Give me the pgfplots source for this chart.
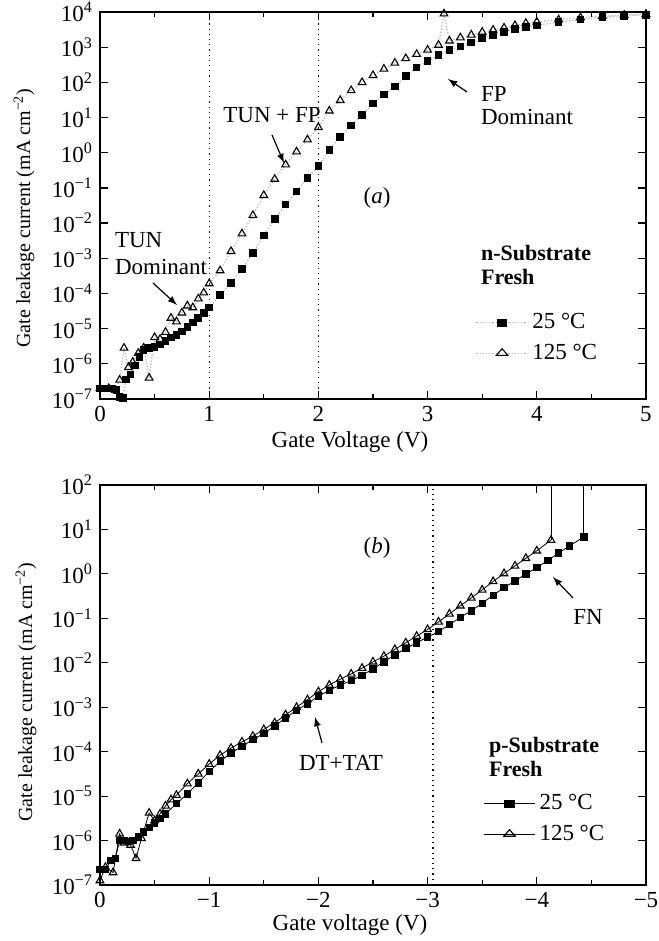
\documentclass[border=0pt]{standalone}
\usepackage{fontspec}
\setmainfont{Liberation Serif}
\usepackage{pgfplots}
\pgfplotsset{compat=1.18}
\pgfplotsset{
 myax/.style={
  scale only axis,
  axis line style={line width=0.8pt},
  major tick length=4pt, minor tick length=2.5pt,
  every tick/.style={black, line width=0.6pt},
  tick label style={font=\fontsize{11.5}{12}\selectfont},
  yminorticks=false,
  enlargelimits=false,
  legend cell align=left,
  legend image post style={xscale=1.5},
 },
 sqA/.style={gray!60, densely dotted, line width=0.6pt, mark=square*, mark size=1.6pt, mark options={solid, black, fill=black}},
 trA/.style={gray!60, densely dotted, line width=0.6pt, mark=triangle, mark size=2.2pt, mark options={solid, black, line width=0.55pt}},
 sqB/.style={black, line width=0.4pt, mark=square*, mark size=1.6pt, mark options={solid, fill=black}},
 trB/.style={black, line width=0.4pt, mark=triangle, mark size=2.2pt, mark options={solid, line width=0.55pt}},
}
\begin{document}
\begin{tikzpicture}
% ---------------- panel (a) ----------------
\begin{axis}[ymode=log, myax,
  at={(50pt,271pt)}, anchor=south west,
  width=273pt, height=193.5pt,
  xmin=0, xmax=5, ymin=1e-7, ymax=1e4,
  xtick={0,1,2,3,4,5}, xticklabels={0,1,2,3,4,5},
  minor x tick num=1,
  ytick={1e-7,1e-6,1e-5,1e-4,1e-3,1e-2,1e-1,1,1e1,1e2,1e3,1e4},
  yticklabels={10\textsuperscript{−7},10\textsuperscript{−6},10\textsuperscript{−5},10\textsuperscript{−4},10\textsuperscript{−3},10\textsuperscript{−2},10\textsuperscript{−1},10\textsuperscript{0},10\textsuperscript{1},10\textsuperscript{2},10\textsuperscript{3},10\textsuperscript{4}},
  legend style={draw=none, fill=none, at={(0.684,0.237)}, anchor=north west,
    font=\fontsize{11.5}{12}\selectfont, row sep=2pt, inner sep=1pt},
]
\addplot[black, dotted, line width=0.6pt, forget plot] coordinates {(1,1e-7) (1,1e4)};
\addplot[black, dotted, line width=0.6pt, forget plot] coordinates {(2,1e-7) (2,1e4)};
\addplot[sqA] coordinates {
(0.00,2.0e-7) (0.05,2.0e-7) (0.10,2.0e-7) (0.15,1.78e-7) (0.18,1.12e-7) (0.21,1.05e-7)
(0.24,3.55e-7) (0.28,5.01e-7) (0.32,8.91e-7) (0.36,1.58e-6) (0.40,2.51e-6) (0.45,2.82e-6)
(0.50,3.02e-6) (0.55,3.55e-6) (0.60,4.47e-6) (0.65,5.62e-6) (0.70,6.61e-6) (0.75,8.32e-6)
(0.80,1.12e-5) (0.85,1.51e-5) (0.90,2.00e-5) (0.95,2.82e-5) (1.00,3.98e-5) (1.10,8.91e-5)
(1.20,2.00e-4) (1.30,5.01e-4) (1.40,1.41e-3) (1.50,4.47e-3) (1.60,1.32e-2) (1.70,3.39e-2)
(1.80,7.94e-2) (1.90,0.191) (2.00,0.417) (2.10,1.20) (2.20,2.82) (2.30,5.89) (2.40,11.7)
(2.50,25.1) (2.60,44.7) (2.70,75.9) (2.80,151) (2.90,263) (3.00,398) (3.10,589) (3.20,832)
(3.30,1047) (3.40,1349) (3.50,1778) (3.60,2239) (3.70,2692) (3.80,3236) (3.90,3715)
(4.00,4169) (4.20,5129) (4.40,6166) (4.60,7079) (4.80,7762) (5.00,8318)
};
\addlegendentry{25 °C}
\addplot[trA] coordinates {
(0.00,2.0e-7) (0.08,2.0e-7) (0.14,1.78e-7) (0.18,3.47e-7) (0.22,2.82e-6) (0.26,7.94e-7)
(0.30,1.12e-6) (0.35,2.00e-6) (0.40,2.82e-6) (0.45,3.98e-7) (0.50,5.62e-6) (0.55,5.01e-6)
(0.60,7.94e-6) (0.65,2.00e-5) (0.70,1.58e-5) (0.75,2.82e-5) (0.80,4.47e-5) (0.85,3.98e-5)
(0.90,7.08e-5) (0.95,1.05e-4) (1.00,1.91e-4) (1.10,4.47e-4) (1.20,1.58e-3) (1.30,5.01e-3)
(1.40,1.66e-2) (1.50,6.17e-2) (1.60,0.178) (1.70,0.457) (1.80,1.07) (1.90,2.34) (2.00,5.25)
(2.10,15.5) (2.20,30.9) (2.30,58.9) (2.40,100) (2.50,158) (2.60,240) (2.70,355) (2.80,479)
(2.90,631) (3.00,832) (3.10,1148) (3.15,8913) (3.20,1514) (3.30,1862) (3.40,2239) (3.50,2692)
(3.60,3090) (3.70,3548) (3.80,4169) (3.90,4786) (4.00,5248) (4.20,6026) (4.40,6918)
(4.60,7586) (4.80,8128) (5.00,8710)
};
\addlegendentry{125 °C}
\end{axis}
% annotations (a)
\node[font=\fontsize{11.5}{12}\selectfont] at (136pt,413pt) {TUN + FP};
\draw[-latex, line width=0.6pt] (136pt,403pt) -- (142pt,389pt);
\node[font=\fontsize{11.5}{12}\selectfont] at (188.5pt,371.5pt) {(\textit{a})};
\node[anchor=west, align=left, font=\fontsize{11.5}{11.5}\selectfont] at (237pt,417.5pt) {FP\\Dominant};
\draw[-latex, line width=0.6pt] (233.5pt,424.5pt) -- (224pt,431pt);
\node[anchor=west, align=left, font=\fontsize{11.5}{13.5}\selectfont] at (54pt,343.5pt) {TUN\\Dominant};
\draw[-latex, line width=0.6pt] (76.5pt,329pt) -- (88.5pt,318pt);
\node[anchor=west, align=left, font=\bfseries\fontsize{11}{12}\selectfont] at (237pt,338pt) {n-Substrate\\Fresh};
\node[font=\fontsize{11.5}{12}\selectfont] at (175pt,249.5pt) {Gate Voltage (V)};
\node[rotate=90, font=\fontsize{10}{12}\selectfont] at (12pt,361.5pt) {Gate leakage current (mA cm\textsuperscript{−2})};
% ---------------- panel (b) ----------------
\begin{axis}[ymode=log, myax,
  at={(50pt,28pt)}, anchor=south west,
  width=273pt, height=200pt,
  xmin=-5, xmax=0, x dir=reverse, ymin=1e-7, ymax=1e2,
  xtick={0,-1,-2,-3,-4,-5}, xticklabels={0,−1,−2,−3,−4,−5},
  minor x tick num=1,
  ytick={1e-7,1e-6,1e-5,1e-4,1e-3,1e-2,1e-1,1,1e1,1e2},
  yticklabels={10\textsuperscript{−7},10\textsuperscript{−6},10\textsuperscript{−5},10\textsuperscript{−4},10\textsuperscript{−3},10\textsuperscript{−2},10\textsuperscript{−1},10\textsuperscript{0},10\textsuperscript{1},10\textsuperscript{2}},
  legend style={draw=none, fill=none, at={(0.698,0.242)}, anchor=north west,
    font=\fontsize{11.5}{12}\selectfont, row sep=2pt, inner sep=1pt},
]
\addplot[black, dotted, line width=0.6pt, forget plot] coordinates {(-3.05,1e-7) (-3.05,1e2)};
\addplot[sqB] coordinates {
(0.00,2.24e-7) (-0.05,2.24e-7) (-0.10,3.55e-7) (-0.14,3.98e-7) (-0.18,1.0e-6) (-0.22,1.0e-6)
(-0.26,9.55e-7) (-0.30,1.0e-6) (-0.35,1.20e-6) (-0.40,1.58e-6) (-0.45,2.00e-6) (-0.50,2.51e-6)
(-0.55,3.16e-6) (-0.60,3.98e-6) (-0.70,6.76e-6) (-0.80,1.12e-5) (-0.90,2.00e-5) (-1.00,3.55e-5)
(-1.10,6.03e-5) (-1.20,9.33e-5) (-1.30,1.32e-4) (-1.40,1.86e-4) (-1.50,2.57e-4) (-1.60,3.80e-4)
(-1.70,5.75e-4) (-1.80,8.51e-4) (-1.90,1.20e-3) (-2.00,1.78e-3) (-2.10,2.40e-3) (-2.20,3.16e-3)
(-2.30,3.98e-3) (-2.40,5.25e-3) (-2.50,7.24e-3) (-2.60,1.05e-2) (-2.70,1.51e-2) (-2.80,2.09e-2)
(-2.90,2.82e-2) (-3.00,3.80e-2) (-3.10,5.01e-2) (-3.20,7.24e-2) (-3.30,0.105) (-3.40,0.148)
(-3.50,0.219) (-3.60,0.331) (-3.70,0.490) (-3.80,0.692) (-3.90,1.00) (-4.00,1.38) (-4.10,2.00)
(-4.20,2.95) (-4.30,4.27) (-4.43,6.76)
};
\addlegendentry{25 °C}
\addplot[trB] coordinates {
(0.00,1.26e-7) (-0.05,2.51e-7) (-0.12,1.91e-7) (-0.18,1.41e-6) (-0.22,8.91e-7) (-0.28,7.94e-7)
(-0.33,3.98e-7) (-0.38,1.12e-6) (-0.45,4.17e-6) (-0.50,2.82e-6) (-0.55,3.98e-6) (-0.60,6.03e-6)
(-0.65,8.32e-6) (-0.70,1.05e-5) (-0.80,1.91e-5) (-0.90,3.16e-5) (-1.00,5.25e-5) (-1.10,8.32e-5)
(-1.20,1.20e-4) (-1.30,1.66e-4) (-1.40,2.24e-4) (-1.50,3.16e-4) (-1.60,4.47e-4) (-1.70,6.76e-4)
(-1.80,1.00e-3) (-1.90,1.48e-3) (-2.00,2.24e-3) (-2.10,3.16e-3) (-2.20,4.27e-3) (-2.30,5.62e-3)
(-2.40,7.59e-3) (-2.50,1.05e-2) (-2.60,1.41e-2) (-2.70,2.00e-2) (-2.80,2.82e-2) (-2.90,3.98e-2)
(-3.00,5.62e-2) (-3.10,8.32e-2) (-3.20,0.126) (-3.30,0.191) (-3.40,0.288) (-3.50,0.437)
(-3.60,0.676) (-3.70,1.02) (-3.80,1.51) (-3.90,2.24) (-4.00,3.31) (-4.13,5.75)
};
\addlegendentry{125 °C}
\addplot[black, line width=0.4pt, forget plot] coordinates {(-4.43,6.76) (-4.43,100)};
\addplot[black, line width=0.4pt, forget plot] coordinates {(-4.13,5.75) (-4.13,100)};
\end{axis}
% annotations (b)
\node[font=\fontsize{11.5}{12}\selectfont] at (188.5pt,196.5pt) {(\textit{b})};
\node[font=\fontsize{11.5}{12}\selectfont] at (294pt,162pt) {FN};
\draw[-latex, line width=0.6pt] (286.5pt,171.5pt) -- (276.5pt,182pt);
\node[font=\fontsize{11.5}{12}\selectfont] at (170.5pt,89pt) {DT+TAT};
\draw[-latex, line width=0.6pt] (161pt,99pt) -- (157.5pt,112pt);
\node[anchor=west, align=left, font=\bfseries\fontsize{11}{12}\selectfont] at (241pt,92pt) {p-Substrate\\Fresh};
\node[font=\fontsize{11.5}{12}\selectfont] at (175pt,8pt) {Gate voltage (V)};
\node[rotate=90, font=\fontsize{10}{12}\selectfont] at (13pt,124.5pt) {Gate leakage current (mA cm\textsuperscript{−2})};
\pgfresetboundingbox
\useasboundingbox (0pt,0pt) rectangle (329pt,470.5pt);
\end{tikzpicture}
\end{document}
